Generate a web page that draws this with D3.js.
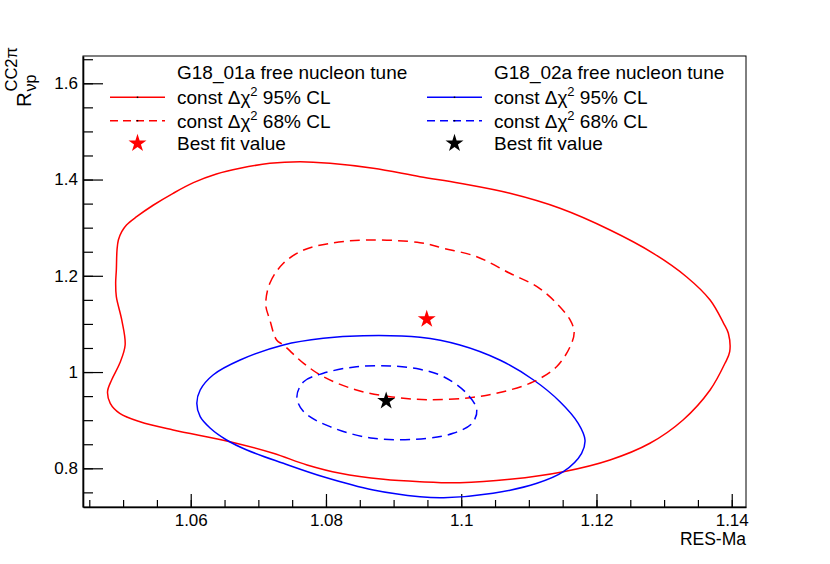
<!DOCTYPE html>
<html lang="en">
<head>
  <meta charset="utf-8">
  <title>RES-Ma vs R CC2pi</title>
  <script src="https://d3js.org/d3.v7.min.js"></script>
  <style>
    body { margin: 0; background: #fff; }
    text { font-family: "Liberation Sans", Arial, Helvetica, sans-serif; fill: #000; }
  </style>
</head>
<body>
  <div id="chart"></div>
  <script>
    // axis ticks
    var xTicks = [1.06, 1.08, 1.1, 1.12, 1.14];
    var xTickLabels = ["1.06", "1.08", "1.1", "1.12", "1.14"];
    var yTicks = [0.8, 1, 1.2, 1.4, 1.6];
    var yTickLabels = ["0.8", "1", "1.2", "1.4", "1.6"];

    // contours, [RES-Ma, R]
    var tune01_cl95 = [
      [1.0762,1.4371],[1.0717,1.4338],[1.0673,1.4234],[1.0638,1.4115],[1.0604,1.3935],[1.0574,1.3714],
      [1.0545,1.3471],[1.0520,1.3228],[1.0505,1.3056],[1.0498,1.2916],[1.0493,1.2744],[1.0491,1.2536],
      [1.0490,1.2121],[1.0489,1.185],[1.0490,1.1566],[1.0498,1.1082],
      [1.0503,1.0562],[1.0495,1.0182],[1.0483,0.9835],[1.0477,0.9592],[1.0481,0.9351],[1.0495,0.9143],
      [1.0525,0.8968],[1.0574,0.8796],[1.0658,0.8553],[1.0722,0.8312],[1.0772,0.8069],[1.0821,0.7896],
      [1.0885,0.7771],[1.0939,0.7722],[1.0998,0.7701],[1.1072,0.7771],[1.1151,0.7929],[1.1220,0.8173],
      [1.1279,0.852],[1.1328,0.9004],[1.1368,0.9627],[1.1390,1.0182],[1.1397,1.0423],[1.1395,1.0805],
      [1.1388,1.1013],[1.1368,1.1497],[1.1333,1.1981],[1.1284,1.2468],[1.1220,1.2952],[1.1146,1.3403],
      [1.1072,1.3714],[1.0998,1.3922],[1.0939,1.4059],[1.0870,1.4234],[1.0806,1.4338]
    ];
    var tune01_cl68 = [
      [1.0711,1.1393],[1.0717,1.1844],[1.0737,1.226],[1.0767,1.2536],[1.0806,1.2675],[1.0860,1.2744],
      [1.0939,1.2688],[1.0974,1.2571],[1.1023,1.2397],[1.1072,1.2052],[1.1112,1.1774],[1.1141,1.1429],
      [1.1161,1.1082],[1.1167,1.0832],[1.1161,1.0527],[1.1141,1.0111],[1.1107,0.98],[1.1062,0.9592],
      [1.1013,0.9467],[1.0949,0.9425],[1.0895,0.9488],[1.0845,0.9627],[1.0796,0.9903],[1.0767,1.0182],
      [1.0737,1.0562],[1.0727,1.0666],[1.0717,1.1082]
    ];
    var tune02_cl95 = [
      [1.0609,0.9351],[1.0614,0.9627],[1.0633,0.9939],[1.0673,1.025],[1.0737,1.0562],[1.0796,1.0701],
      [1.0855,1.0755],[1.0939,1.0722],[1.0998,1.0562],[1.1057,1.025],[1.1107,0.9835],[1.1146,0.9384],
      [1.1173,0.8935],[1.1183,0.8588],[1.1178,0.8312],[1.1151,0.7929],[1.1112,0.7688],[1.1047,0.7481],
      [1.0974,0.7389],[1.0939,0.741],[1.0870,0.7549],[1.0796,0.7825],[1.0737,0.8104],[1.0683,0.838],
      [1.0653,0.8588],[1.0629,0.8831],[1.0614,0.9072]
    ];
    var tune02_cl68 = [
      [1.0757,0.9488],[1.0767,0.98],[1.0796,0.9974],[1.0845,1.0111],[1.0895,1.0126],[1.0939,1.0057],
      [1.0974,0.9903],[1.1008,0.9558],[1.1023,0.9212],[1.1016,0.8935],[1.0988,0.8727],[1.0949,0.8623],
      [1.0870,0.8623],[1.0806,0.8865],[1.0767,0.9176]
    ];
    var bestFit01 = [1.0949, 1.110];
    var bestFit02 = [1.0889, 0.940];

    var legendTitles = ["G18_01a free nucleon tune", "G18_02a free nucleon tune"];
    var legendColors = ["#ff0000", "#0000ff"];
    var starColors = ["#ff0000", "#000000"];

    var w = 830, h = 564;
    var frameL = 83, frameR = 746, frameT = 56, frameB = 507;

    var svg = d3.select("#chart").append("svg")
      .attr("width", w).attr("height", h);
    svg.append("rect").attr("width", w).attr("height", h).attr("fill", "#fff");

    var x = d3.scaleLinear().domain([1.04407, 1.14211]).range([frameL, frameR]);
    var y = d3.scaleLinear().domain([0.7196, 1.6567]).range([frameB, frameT]);

    // frame
    svg.append("rect")
      .attr("x", frameL).attr("y", frameT)
      .attr("width", frameR - frameL).attr("height", frameB - frameT)
      .attr("fill", "none").attr("stroke", "#000").attr("stroke-width", 1);

    // minor ticks
    var xMinor = d3.range(1.045, 1.1415, 0.005);
    var yMinor = d3.range(0.75, 1.651, 0.05);
    svg.append("g").attr("transform", "translate(0," + frameB + ")")
      .call(d3.axisBottom(x).tickValues(xMinor).tickSize(-7).tickSizeOuter(0).tickFormat(""))
      .call(g => g.select(".domain").remove());
    svg.append("g").attr("transform", "translate(" + frameL + ",0)")
      .call(d3.axisLeft(y).tickValues(yMinor).tickSize(-10).tickSizeOuter(0).tickFormat(""))
      .call(g => g.select(".domain").remove());

    // major ticks + labels
    var xAxis = svg.append("g").attr("transform", "translate(0," + frameB + ")")
      .call(d3.axisBottom(x).tickValues(xTicks).tickSize(-13).tickSizeOuter(0).tickPadding(7)
        .tickFormat((d, i) => xTickLabels[i]));
    var yAxis = svg.append("g").attr("transform", "translate(" + frameL + ",0)")
      .call(d3.axisLeft(y).tickValues(yTicks).tickSize(-20).tickSizeOuter(0).tickPadding(5)
        .tickFormat((d, i) => yTickLabels[i]));
    [xAxis, yAxis].forEach(function(a) {
      a.attr("font-size", null).attr("font-family", null);
      a.selectAll("text").style("font-size", "17px");
      a.select(".domain").attr("stroke-width", 1.6);
    });
    svg.selectAll(".tick line").attr("stroke", "#000").attr("stroke-width", 1.2);

    // axis titles
    svg.append("text").attr("x", frameR).attr("y", 545)
      .attr("text-anchor", "end").style("font-size", "17.5px").text("RES-Ma");

    var yt = svg.append("g").attr("transform", "translate(31,107) rotate(-90)");
    yt.append("text").attr("x", 0).attr("y", 0).style("font-size", "20.5px").text("R");
    yt.append("text").attr("x", 15.5).attr("y", -14).style("font-size", "16.5px").text("CC2\u03c0");
    yt.append("text").attr("x", 15.5).attr("y", 4.5).style("font-size", "16px").text("\u03bdp");

    // contours
    var line = d3.line().x(d => x(d[0])).y(d => y(d[1])).curve(d3.curveCatmullRomClosed.alpha(0.5));
    var contours = [
      { pts: tune01_cl95, color: legendColors[0], dash: null },
      { pts: tune02_cl95, color: legendColors[1], dash: null },
      { pts: tune01_cl68, color: legendColors[0], dash: "10,6" },
      { pts: tune02_cl68, color: legendColors[1], dash: "10,6" }
    ];
    svg.selectAll("path.contour").data(contours).enter()
      .append("path").attr("class", "contour")
      .attr("d", d => line(d.pts))
      .attr("fill", "none")
      .attr("stroke", d => d.color)
      .attr("stroke-width", 1.5)
      .attr("stroke-dasharray", d => d.dash);

    var star = d3.symbol().type(d3.symbolStar).size(100);
    svg.selectAll("path.best").data([bestFit01, bestFit02]).enter()
      .append("path").attr("class", "best")
      .attr("d", star)
      .attr("transform", d => "translate(" + x(d[0]) + "," + y(d[1]) + ")")
      .attr("fill", (d, i) => starColors[i]);

    // legends
    var textX = [177, 494], sampleX0 = [110, 427], sampleX1 = [165, 482];
    var rows = [72.3, 97.3, 120.7, 143.3];
    [0, 1].forEach(function(c) {
      var g = svg.append("g");
      g.append("text").attr("x", textX[c]).attr("y", rows[0]).attr("dy", "0.36em")
        .style("font-size", "19px").text(legendTitles[c]);
      ["95% CL", "68% CL"].forEach(function(lab, k) {
        var ry = rows[k + 1];
        g.append("line").attr("x1", sampleX0[c]).attr("x2", sampleX1[c])
          .attr("y1", ry).attr("y2", ry)
          .attr("stroke", legendColors[c]).attr("stroke-width", 1.5)
          .attr("stroke-dasharray", k === 1 ? "8,5" : null);
        g.append("rect").attr("x", (sampleX0[c] + sampleX1[c]) / 2 - 0.75).attr("y", ry - 0.75)
          .attr("width", 1.5).attr("height", 1.5).attr("fill", "#000");
        var t = g.append("text").attr("x", textX[c]).attr("y", ry).attr("dy", "0.36em")
          .style("font-size", "19px");
        t.append("tspan").text("const \u0394\u03c7");
        t.append("tspan").attr("dy", -8).style("font-size", "13px").text("2");
        t.append("tspan").attr("dy", 8).text(" " + lab);
      });
      g.append("path").attr("d", star)
        .attr("transform", "translate(" + ((sampleX0[c] + sampleX1[c]) / 2) + "," + rows[3] + ")")
        .attr("fill", starColors[c]);
      g.append("text").attr("x", textX[c]).attr("y", rows[3]).attr("dy", "0.36em")
        .style("font-size", "19px").text("Best fit value");
    });
  </script>
</body>
</html>
